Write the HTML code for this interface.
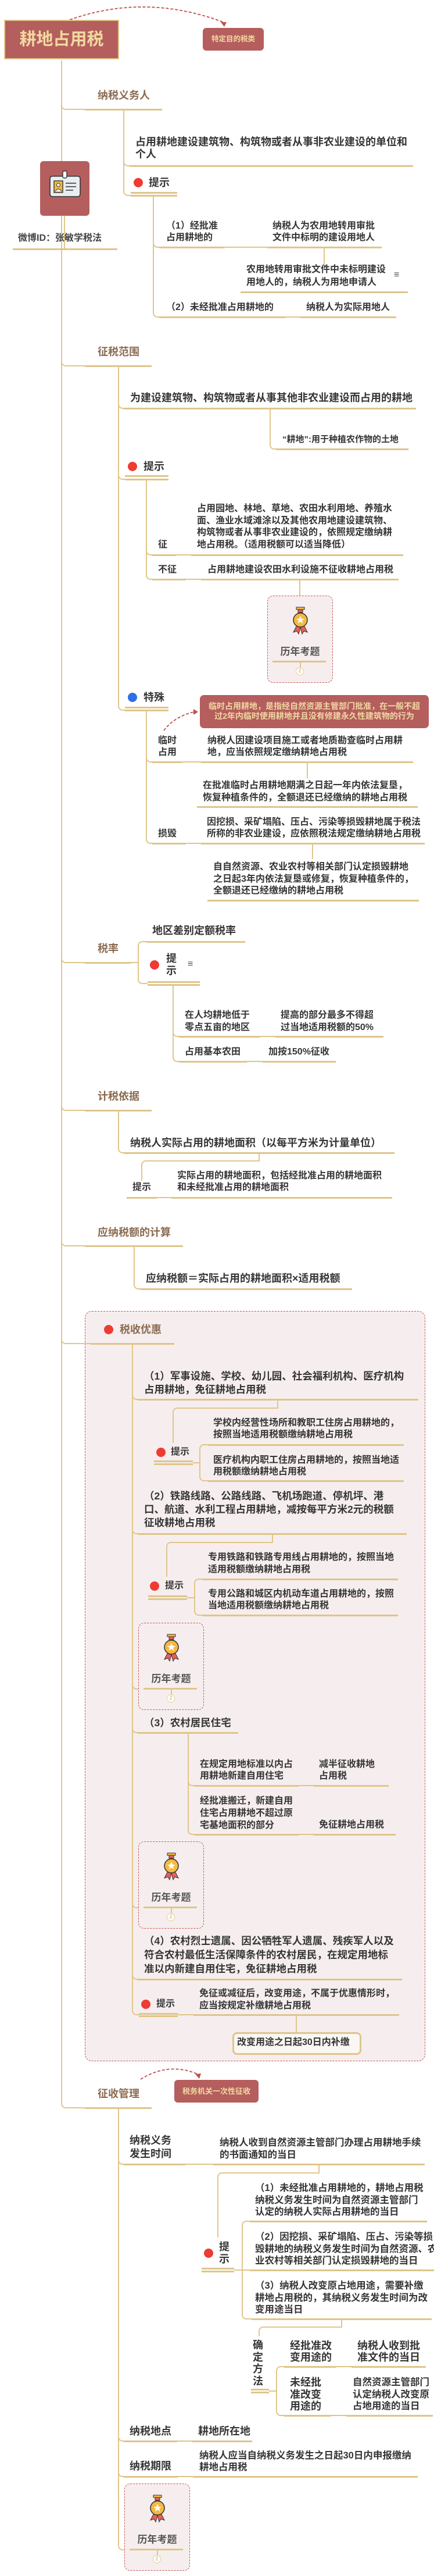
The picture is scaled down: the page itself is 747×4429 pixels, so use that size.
<!DOCTYPE html>
<html><head><meta charset="utf-8"><style>
body{margin:0;background:#fff}
#w{position:relative;width:747px;height:4429px;overflow:hidden;font-family:"Liberation Sans","Noto Sans CJK SC",sans-serif}
.t{position:absolute;white-space:nowrap;font-weight:bold;color:#353535;font-size:16px;line-height:20px}
.h{color:#8a6a50;font-size:18px;line-height:22px}
.b{font-size:18px;line-height:22px}
.u{position:absolute;height:3px;background:#dfc58b}
.u2{position:absolute;height:2.5px;background:#dfc58b}
.c{position:absolute;height:1.5px;background:#dfc58b}
.v{position:absolute;width:2px;background:#e0c68c}
.k{position:absolute;box-sizing:border-box;border-left:2px solid #e0c68c;border-bottom:2px solid #e0c68c;border-bottom-left-radius:8px;height:16px}
.tl{position:absolute;box-sizing:border-box;border-left:2px solid #e0c68c;border-top:2px solid #e0c68c;border-top-left-radius:8px}
.dot{position:absolute;width:16px;height:16px;border-radius:50%;background:#ee3b33}
.bx{position:absolute;width:113px;height:150px;box-sizing:border-box;border:1.5px dashed #c9565a;border-radius:10px;background:#f6eeee}
.bx .tt{position:absolute;left:0;width:100%;top:86px;text-align:center;font-weight:bold;color:#555;font-size:17px;line-height:20px}
.bx .ul{position:absolute;left:8px;width:92px;top:111px;height:3px;background:#dfc58b}
.bx .vl{position:absolute;left:55px;top:114px;width:1.5px;height:9px;background:#dfc58b}
.bx .ci{position:absolute;left:48px;top:122px;width:14px;height:14px;box-sizing:border-box;border:1.5px solid #e6cf8f;border-radius:50%;background:#fff;font-size:9px;line-height:11px;text-align:center;color:#c8a860}
.bx svg{position:absolute;left:38px;top:18px}
</style></head><body><div id="w">

<svg style="position:absolute;left:0;top:0" width="747" height="4429">
<path d="M120 34 Q250 -12 384 38" fill="none" stroke="#c0504d" stroke-width="1.8" stroke-dasharray="5,3"/>
<polygon points="380,38 390,38 386,46" fill="#c0504d"/>
<path d="M282 1256 Q300 1232 334 1224" fill="none" stroke="#c0504d" stroke-width="1.8" stroke-dasharray="5,3"/>
<polygon points="333,1219 341,1224 333,1229" fill="#c0504d"/>
<path d="M242 3575 Q290 3545 340 3566" fill="none" stroke="#c0504d" stroke-width="1.8" stroke-dasharray="5,3"/>
<polygon points="336,3566 346,3565 343,3574" fill="#c0504d"/>
</svg>

<!-- title -->
<div style="position:absolute;left:7px;top:34px;width:198px;height:68px;box-sizing:border-box;background:#b55e5e;border:2px solid #e0c58b;color:#f0d9a0;font-weight:bold;font-size:29px;line-height:64px;text-align:center">耕地占用税</div>
<div style="position:absolute;left:349px;top:48px;width:105px;height:39px;border-radius:6px;background:#b55e5e;color:#f0d9a0;font-weight:bold;font-size:12.5px;line-height:39px;text-align:center">特定目的税类</div>

<!-- trunk -->
<div class="v" style="left:105px;top:104px;height:3505px"></div>
<div class="k" style="left:105px;top:173px;width:41px"></div>
<div class="k" style="left:105px;top:614px;width:41px"></div>
<div class="k" style="left:105px;top:1640px;width:41px"></div>
<div class="k" style="left:105px;top:1894px;width:41px"></div>
<div class="k" style="left:105px;top:2127px;width:41px"></div>
<div class="k" style="left:105px;top:3609px;width:41px"></div>

<!-- avatar -->
<div style="position:absolute;left:69px;top:277px;width:85px;height:94px;border-radius:6px;background:#b55e5e"></div>
<svg style="position:absolute;left:84px;top:293px" width="56" height="48"><rect x="2" y="10" width="52" height="35" rx="4" fill="#e8eef0" stroke="#333" stroke-width="1.6"/><rect x="24" y="1" width="7" height="12" rx="2" fill="#fff" stroke="#333" stroke-width="1.4"/><rect x="9" y="18" width="15" height="20" fill="#f4b942" stroke="#333" stroke-width="1.4"/><circle cx="16.5" cy="25" r="3" fill="#fff" stroke="#333"/><path d="M11 36 Q16.5 28 22 36" fill="#fff" stroke="#333"/><path d="M29 22H47M29 28H47M29 34H42" stroke="#333" stroke-width="1.6"/></svg>
<div class="v" style="left:110px;top:371px;height:57px"></div>
<div class="t" style="left:31px;top:400px;color:#444">微博ID：张敏学税法</div>
<div class="u" style="left:22px;top:426.5px;width:180px"></div>

<!-- 纳税义务人 -->
<div class="t h" style="left:168px;top:153px">纳税义务人</div>
<div class="u" style="left:146px;top:186.5px;width:133px"></div>
<div class="v" style="left:212px;top:188px;height:133px"></div>
<div class="k" style="left:212px;top:270px;width:11px"></div>
<div class="k" style="left:212px;top:321px;width:13px"></div>
<div class="t b" style="left:233px;top:234px;line-height:21px">占用耕地建设建筑物、构筑物或者从事非农业建设的单位和<br>个人</div>
<div class="u" style="left:223px;top:283.5px;width:488px"></div>
<div class="dot" style="left:230px;top:306px"></div>
<div class="t b" style="left:256px;top:303px">提示</div>
<div class="u2" style="left:225px;top:330px;width:80px"></div>
<div class="u2" style="left:225px;top:335px;width:80px"></div>
<div class="v" style="left:263px;top:336px;height:194px"></div>
<div class="k" style="left:263px;top:410px;width:11px"></div>
<div class="k" style="left:263px;top:530px;width:11px"></div>
<div class="t" style="left:286px;top:379px">（1）经批准<br>占用耕地的</div>
<div class="u" style="left:274px;top:423.5px;width:113px"></div>
<div class="c" style="left:387px;top:424px;width:73px"></div>
<div class="u" style="left:460px;top:423.5px;width:197px"></div>
<div class="t" style="left:469px;top:379px">纳税人为农用地转用审批<br>文件中标明的建设用地人</div>
<div class="v" style="left:557px;top:425px;height:29px"></div>
<div class="t" style="left:424px;top:453px;line-height:22px">农用地转用审批文件中未标明建设<br>用地人的，纳税人为用地申请人</div>
<div class="t" style="left:678px;top:463px;font-weight:normal;color:#555">≡</div>
<div class="u" style="left:414px;top:500.5px;width:288px"></div>
<div class="t" style="left:286px;top:519px">（2）未经批准占用耕地的</div>
<div class="u" style="left:274px;top:543.5px;width:217px"></div>
<div class="c" style="left:491px;top:544px;width:26px"></div>
<div class="u" style="left:517px;top:543.5px;width:165px"></div>
<div class="t" style="left:527px;top:519px">纳税人为实际用地人</div>

<!-- 征税范围 -->
<div class="t h" style="left:168px;top:594px">征税范围</div>
<div class="u" style="left:146px;top:627.5px;width:115px"></div>
<div class="v" style="left:203px;top:629px;height:577px"></div>
<div class="k" style="left:203px;top:687px;width:10px"></div>
<div class="k" style="left:203px;top:809px;width:12px"></div>
<div class="k" style="left:203px;top:1206px;width:12px"></div>
<div class="t b" style="left:224px;top:673px">为建设建筑物、构筑物或者从事其他非农业建设而占用的耕地</div>
<div class="u" style="left:213px;top:700.5px;width:503px"></div>
<div class="v" style="left:464px;top:702px;height:55px"></div>
<div class="k" style="left:464px;top:757px;width:11px"></div>
<div class="t" style="left:486px;top:746px;font-size:15px">“耕地”:用于种植农作物的土地</div>
<div class="u" style="left:475px;top:770.5px;width:228px"></div>
<div class="dot" style="left:220px;top:794px"></div>
<div class="t b" style="left:247px;top:791px">提示</div>
<div class="u2" style="left:215px;top:817px;width:75px"></div>
<div class="u2" style="left:215px;top:823px;width:75px"></div>
<div class="v" style="left:251px;top:824px;height:157px"></div>
<div class="k" style="left:251px;top:939px;width:11px"></div>
<div class="k" style="left:251px;top:981px;width:11px"></div>
<div class="t" style="left:272px;top:927px">征</div>
<div class="t" style="left:339px;top:865px;line-height:20.7px">占用园地、林地、草地、农田水利用地、养殖水<br>面、渔业水域滩涂以及其他农用地建设建筑物、<br>构筑物或者从事非农业建设的，依照规定缴纳耕<br>地占用税。（适用税额可以适当降低）</div>
<div class="u" style="left:262px;top:952.5px;width:41px"></div>
<div class="c" style="left:303px;top:953px;width:26px"></div>
<div class="u" style="left:329px;top:952.5px;width:365px"></div>
<div class="t" style="left:272px;top:970px">不征</div>
<div class="t" style="left:357px;top:970px">占用耕地建设农田水利设施不征收耕地占用税</div>
<div class="u" style="left:262px;top:994.5px;width:58px"></div>
<div class="c" style="left:320px;top:995px;width:26px"></div>
<div class="u" style="left:346px;top:994.5px;width:340px"></div>
<div class="v" style="left:515px;top:996px;height:28px"></div>

<!-- 特殊 -->
<div class="dot" style="left:220px;top:1191px;background:#2f6fe6"></div>
<div class="t b" style="left:247px;top:1188px">特殊</div>
<div class="u2" style="left:215px;top:1215px;width:75px"></div>
<div class="u2" style="left:215px;top:1220px;width:75px"></div>
<div style="position:absolute;left:344px;top:1195px;width:394px;height:57px;border-radius:7px;background:#b55e5e;color:#f0d9a0;font-weight:bold;font-size:14px;line-height:17px;text-align:center;padding-top:11px;box-sizing:border-box">临时占用耕地，是指经自然资源主管部门批准，在一般不超<br>过2年内临时使用耕地并且没有修建永久性建筑物的行为</div>
<div class="v" style="left:251px;top:1221px;height:214px"></div>
<div class="k" style="left:251px;top:1295px;width:11px"></div>
<div class="k" style="left:251px;top:1435px;width:11px"></div>
<div class="t" style="left:272px;top:1264px">临时<br>占用</div>
<div class="t" style="left:357px;top:1264px">纳税人因建设项目施工或者地质勘查临时占用耕<br>地，应当依照规定缴纳耕地占用税</div>
<div class="u" style="left:262px;top:1308.5px;width:51px"></div>
<div class="c" style="left:313px;top:1309px;width:33px"></div>
<div class="u" style="left:346px;top:1308.5px;width:365px"></div>
<div class="v" style="left:528px;top:1310px;height:28px"></div>
<div class="t" style="left:349px;top:1340px;line-height:21px">在批准临时占用耕地期满之日起一年内依法复垦，<br>恢复种植条件的，全额退还已经缴纳的耕地占用税</div>
<div class="u" style="left:339px;top:1385.5px;width:380px"></div>
<div class="t" style="left:272px;top:1424px">损毁</div>
<div class="t" style="left:356px;top:1404px">因挖损、采矿塌陷、压占、污染等损毁耕地属于税法<br>所称的非农业建设，应依照税法规定缴纳耕地占用税</div>
<div class="u" style="left:262px;top:1448.5px;width:58px"></div>
<div class="c" style="left:320px;top:1449px;width:26px"></div>
<div class="u" style="left:346px;top:1448.5px;width:385px"></div>
<div class="v" style="left:537px;top:1450px;height:27px"></div>
<div class="t" style="left:367px;top:1481px;line-height:20.5px">自自然资源、农业农村等相关部门认定损毁耕地<br>之日起3年内依法复垦或修复，恢复种植条件的，<br>全额退还已经缴纳的耕地占用税</div>
<div class="u" style="left:357px;top:1546.5px;width:364px"></div>

<!-- 税率 -->
<div class="t h" style="left:168px;top:1620px">税率</div>
<div class="u" style="left:146px;top:1653.5px;width:79px"></div>
<div class="c" style="left:225px;top:1654px;width:13px"></div>
<div class="tl" style="left:237px;top:1618px;width:15px;height:16px"></div>
<div class="v" style="left:237px;top:1630px;height:50px"></div>
<div class="k" style="left:237px;top:1676px;width:17px"></div>
<div class="t b" style="left:262px;top:1589px">地区差别定额税率</div>
<div class="u" style="left:252px;top:1617.5px;width:170px"></div>
<div class="dot" style="left:258px;top:1651px"></div>
<div class="t b" style="left:286px;top:1638px;line-height:21px">提<br>示</div>
<div class="t" style="left:323px;top:1648px;font-weight:normal;color:#555">≡</div>
<div class="u2" style="left:254px;top:1687px;width:90px"></div>
<div class="u2" style="left:254px;top:1692px;width:90px"></div>
<div class="v" style="left:297px;top:1693px;height:117px"></div>
<div class="k" style="left:297px;top:1767px;width:11px"></div>
<div class="k" style="left:297px;top:1810px;width:11px"></div>
<div class="t" style="left:318px;top:1735px;line-height:21px">在人均耕地低于<br>零点五亩的地区</div>
<div class="t" style="left:483px;top:1735px;line-height:21px">提高的部分最多不得超<br>过当地适用税额的50%</div>
<div class="u" style="left:308px;top:1780.5px;width:139px"></div>
<div class="c" style="left:447px;top:1781px;width:27px"></div>
<div class="u" style="left:474px;top:1780.5px;width:186px"></div>
<div class="t" style="left:318px;top:1799px">占用基本农田</div>
<div class="t" style="left:462px;top:1799px">加按150%征收</div>
<div class="u" style="left:308px;top:1823.5px;width:117px"></div>
<div class="c" style="left:425px;top:1824px;width:27px"></div>
<div class="u" style="left:452px;top:1823.5px;width:126px"></div>

<!-- 计税依据 -->
<div class="t h" style="left:168px;top:1874px">计税依据</div>
<div class="u" style="left:146px;top:1907.5px;width:115px"></div>
<div class="v" style="left:203px;top:1909px;height:58px"></div>
<div class="k" style="left:203px;top:1967px;width:10px"></div>
<div class="t b" style="left:224px;top:1954px">纳税人实际占用的耕地面积（以每平方米为计量单位）</div>
<div class="u" style="left:213px;top:1980.5px;width:466px"></div>
<div class="v" style="left:445px;top:1982px;height:15px"></div>
<div class="tl" style="left:243px;top:1995px;width:204px;height:35px"></div>
<div class="t" style="left:228px;top:2032px">提示</div>
<div class="t" style="left:305px;top:2012px">实际占用的耕地面积，包括经批准占用的耕地面积<br>和未经批准占用的耕地面积</div>
<div class="u" style="left:218px;top:2057.5px;width:52px"></div>
<div class="c" style="left:270px;top:2058px;width:25px"></div>
<div class="u" style="left:295px;top:2057.5px;width:380px"></div>

<!-- 应纳税额的计算 -->
<div class="t h" style="left:168px;top:2108px">应纳税额的计算</div>
<div class="u" style="left:146px;top:2140.5px;width:169px"></div>
<div class="v" style="left:230px;top:2142px;height:59px"></div>
<div class="k" style="left:230px;top:2201px;width:11px"></div>
<div class="t b" style="left:251px;top:2187px">应纳税额＝实际占用的耕地面积×适用税额</div>
<div class="u" style="left:241px;top:2214.5px;width:365px"></div>

<!-- 税收优惠 -->
<div style="position:absolute;left:146px;top:2254px;width:586px;height:1290px;box-sizing:border-box;border:1.5px dashed #c9565a;border-radius:12px;background:#f6eeee"></div>
<div class="k" style="left:105px;top:2295px;width:51px"></div>
<div class="dot" style="left:179px;top:2278px"></div>
<div class="t h" style="left:206px;top:2275px">税收优惠</div>
<div class="u" style="left:156px;top:2308.5px;width:144px"></div>
<div class="v" style="left:227px;top:2310px;height:1139px"></div>
<div class="k" style="left:227px;top:2391px;width:10px"></div>
<div class="k" style="left:227px;top:2622px;width:10px"></div>
<div class="k" style="left:227px;top:2889px;width:20px"></div>
<div class="k" style="left:227px;top:2964px;width:10px"></div>
<div class="k" style="left:227px;top:3265px;width:20px"></div>
<div class="k" style="left:227px;top:3388px;width:10px"></div>
<div class="k" style="left:227px;top:3449px;width:12px"></div>

<div class="t b" style="left:248px;top:2355px;font-size:17.5px;line-height:23px">（1）军事设施、学校、幼儿园、社会福利机构、医疗机构<br>占用耕地，免征耕地占用税</div>
<div class="u" style="left:237px;top:2404.5px;width:483px"></div>
<div class="v" style="left:477px;top:2406px;height:16px"></div>
<div class="tl" style="left:297px;top:2420px;width:182px;height:61px"></div>
<div class="dot" style="left:269px;top:2489px"></div>
<div class="t" style="left:294px;top:2487px">提示</div>
<div class="u2" style="left:265px;top:2511px;width:67px"></div>
<div class="u2" style="left:265px;top:2516px;width:67px"></div>
<div class="c" style="left:332px;top:2514px;width:12px"></div>
<div class="tl" style="left:343px;top:2483px;width:15px;height:14px"></div>
<div class="v" style="left:343px;top:2494px;height:42px"></div>
<div class="k" style="left:343px;top:2531px;width:15px"></div>
<div class="t" style="left:367px;top:2437px">学校内经营性场所和教职工住房占用耕地的，<br>按照当地适用税额缴纳耕地占用税</div>
<div class="u" style="left:358px;top:2482.5px;width:337px"></div>
<div class="t" style="left:367px;top:2501px;line-height:19.5px">医疗机构内职工住房占用耕地的，按照当地适<br>用税额缴纳耕地占用税</div>
<div class="u" style="left:358px;top:2544.5px;width:337px"></div>

<div class="t b" style="left:248px;top:2561px;font-size:17.5px;line-height:23px">（2）铁路线路、公路线路、飞机场跑道、停机坪、港<br>口、航道、水利工程占用耕地，减按每平方米2元的税额<br>征收耕地占用税</div>
<div class="u" style="left:237px;top:2635.5px;width:463px"></div>
<div class="v" style="left:468px;top:2637px;height:16px"></div>
<div class="tl" style="left:286px;top:2651px;width:184px;height:60px"></div>
<div class="dot" style="left:258px;top:2719px"></div>
<div class="t" style="left:284px;top:2717px">提示</div>
<div class="u2" style="left:255px;top:2743px;width:67px"></div>
<div class="u2" style="left:255px;top:2748px;width:67px"></div>
<div class="c" style="left:322px;top:2746px;width:13px"></div>
<div class="tl" style="left:334px;top:2714px;width:14px;height:14px"></div>
<div class="v" style="left:334px;top:2725px;height:42px"></div>
<div class="k" style="left:334px;top:2762px;width:14px"></div>
<div class="t" style="left:358px;top:2667px;line-height:21px">专用铁路和铁路专用线占用耕地的，按照当地<br>适用税额缴纳耕地占用税</div>
<div class="u" style="left:348px;top:2713.5px;width:337px"></div>
<div class="t" style="left:358px;top:2731px">专用公路和城区内机动车道占用耕地的，按照<br>当地适用税额缴纳耕地占用税</div>
<div class="u" style="left:348px;top:2775.5px;width:337px"></div>

<div class="t b" style="left:248px;top:2951px;font-size:17.5px">（3）农村居民住宅</div>
<div class="u" style="left:237px;top:2977.5px;width:173px"></div>
<div class="v" style="left:323px;top:2979px;height:160px"></div>
<div class="k" style="left:323px;top:3055px;width:11px"></div>
<div class="k" style="left:323px;top:3139px;width:11px"></div>
<div class="t" style="left:344px;top:3024px">在规定用地标准以内占<br>用耕地新建自用住宅</div>
<div class="t" style="left:549px;top:3024px">减半征收耕地<br>占用税</div>
<div class="u" style="left:334px;top:3068.5px;width:180px"></div>
<div class="c" style="left:514px;top:3069px;width:26px"></div>
<div class="u" style="left:540px;top:3068.5px;width:129px"></div>
<div class="t" style="left:344px;top:3086px;line-height:21px">经批准搬迁，新建自用<br>住宅占用耕地不超过原<br>宅基地面积的部分</div>
<div class="t" style="left:549px;top:3128px">免征耕地占用税</div>
<div class="u" style="left:334px;top:3152.5px;width:180px"></div>
<div class="c" style="left:514px;top:3153px;width:26px"></div>
<div class="u" style="left:540px;top:3152.5px;width:141px"></div>

<div class="t b" style="left:248px;top:3325px;font-size:17.5px;line-height:24px">（4）农村烈士遗属、因公牺牲军人遗属、残疾军人以及<br>符合农村最低生活保障条件的农村居民，在规定用地标<br>准以内新建自用住宅，免征耕地占用税</div>
<div class="u" style="left:237px;top:3401.5px;width:455px"></div>
<div class="dot" style="left:243px;top:3438px"></div>
<div class="t" style="left:269px;top:3436px">提示</div>
<div class="u2" style="left:239px;top:3461px;width:67px"></div>
<div class="u2" style="left:239px;top:3465px;width:67px"></div>
<div class="c" style="left:306px;top:3463px;width:27px"></div>
<div class="u" style="left:333px;top:3462.5px;width:354px"></div>
<div class="t" style="left:343px;top:3417px;line-height:21px">免征或减征后，改变用途，不属于优惠情形时，<br>应当按规定补缴耕地占用税</div>
<div class="v" style="left:509px;top:3464px;height:30px"></div>
<div style="position:absolute;left:400px;top:3494px;width:222px;height:39px;box-sizing:border-box;border:3px solid #dfc58b;border-radius:8px;background:#faf6f2"></div>
<div class="t" style="left:408px;top:3502px">改变用途之日起30日内补缴</div>

<!-- 征收管理 -->
<div class="t h" style="left:168px;top:3589px">征收管理</div>
<div style="position:absolute;left:300px;top:3576px;width:145px;height:39px;border-radius:6px;background:#b55e5e;color:#f0d9a0;font-weight:bold;font-size:13px;line-height:39px;text-align:center">税务机关一次性征收</div>
<div class="u" style="left:146px;top:3622.5px;width:115px"></div>
<div class="v" style="left:203px;top:3624px;height:745px"></div>
<div class="k" style="left:203px;top:3706px;width:10px"></div>
<div class="k" style="left:203px;top:4182px;width:10px"></div>
<div class="k" style="left:203px;top:4243px;width:10px"></div>
<div class="k" style="left:203px;top:4369px;width:20px"></div>
<div class="t b" style="left:223px;top:3669px;line-height:23px">纳税义务<br>发生时间</div>
<div class="t" style="left:378px;top:3674px;font-size:16.5px;line-height:21px">纳税人收到自然资源主管部门办理占用耕地手续<br>的书面通知的当日</div>
<div class="u" style="left:213px;top:3719.5px;width:106px"></div>
<div class="c" style="left:319px;top:3720px;width:48px"></div>
<div class="u" style="left:367px;top:3719.5px;width:364px"></div>
<div class="v" style="left:548px;top:3721px;height:16px"></div>
<div class="tl" style="left:374px;top:3735px;width:176px;height:112px"></div>
<div class="dot" style="left:351px;top:3866px"></div>
<div class="t b" style="left:377px;top:3853px;line-height:21px">提<br>示</div>
<div class="u2" style="left:347px;top:3899px;width:56px"></div>
<div class="u2" style="left:347px;top:3904px;width:56px"></div>
<div class="c" style="left:403px;top:3902px;width:27px"></div>
<div class="tl" style="left:416px;top:3818px;width:14px;height:14px"></div>
<div class="v" style="left:416px;top:3829px;height:143px"></div>
<div class="k" style="left:416px;top:3972px;width:17px"></div>
<div class="t" style="left:439px;top:3752px;font-size:16.5px;line-height:20.5px">（1）未经批准占用耕地的，耕地占用税<br>纳税义务发生时间为自然资源主管部门<br>认定的纳税人实际占用耕地的当日</div>
<div class="u" style="left:430px;top:3817.5px;width:305px"></div>
<div class="t" style="left:439px;top:3836px;font-size:16.5px;line-height:20.5px">（2）因挖损、采矿塌陷、压占、污染等损<br>毁耕地的纳税义务发生时间为自然资源、农<br>业农村等相关部门认定损毁耕地的当日</div>
<div class="u" style="left:430px;top:3901.5px;width:317px"></div>
<div class="t" style="left:439px;top:3920px;font-size:16.5px;line-height:20.5px">（3）纳税人改变原占地用途，需要补缴<br>耕地占用税的，其纳税义务发生时间为改<br>变用途当日</div>
<div class="u" style="left:433px;top:3985.5px;width:310px"></div>
<div class="v" style="left:587px;top:3987px;height:15px"></div>
<div class="tl" style="left:445px;top:4000px;width:144px;height:17px"></div>
<div class="t b" style="left:435px;top:4022px;line-height:20.5px">确<br>定<br>方<br>法</div>
<div class="u2" style="left:432px;top:4107px;width:31px"></div>
<div class="u2" style="left:432px;top:4112px;width:31px"></div>
<div class="c" style="left:463px;top:4110px;width:13px"></div>
<div class="tl" style="left:475px;top:4068px;width:14px;height:14px"></div>
<div class="v" style="left:475px;top:4079px;height:60px"></div>
<div class="k" style="left:475px;top:4138px;width:14px"></div>
<div class="t b" style="left:499px;top:4023px;line-height:20px">经批准改<br>变用途的</div>
<div class="t b" style="left:615px;top:4023px;line-height:20px">纳税人收到批<br>准文件的当日</div>
<div class="u" style="left:489px;top:4067.5px;width:90px"></div>
<div class="c" style="left:579px;top:4068px;width:26px"></div>
<div class="u" style="left:605px;top:4067.5px;width:128px"></div>
<div class="t b" style="left:499px;top:4086px;line-height:20.5px">未经批<br>准改变<br>用途的</div>
<div class="t" style="left:607px;top:4086px;font-size:16.5px;line-height:20.5px">自然资源主管部门<br>认定纳税人改变原<br>占地用途的当日</div>
<div class="u" style="left:489px;top:4151.5px;width:81px"></div>
<div class="c" style="left:570px;top:4152px;width:26px"></div>
<div class="u" style="left:596px;top:4151.5px;width:149px"></div>

<div class="t b" style="left:223px;top:4169px">纳税地点</div>
<div class="t b" style="left:341px;top:4169px">耕地所在地</div>
<div class="u" style="left:213px;top:4195.5px;width:92px"></div>
<div class="c" style="left:305px;top:4196px;width:26px"></div>
<div class="u" style="left:331px;top:4195.5px;width:103px"></div>
<div class="t b" style="left:223px;top:4229px">纳税期限</div>
<div class="t" style="left:343px;top:4212px;font-size:16.5px">纳税人应当自纳税义务发生之日起30日内申报缴纳<br>耕地占用税</div>
<div class="u" style="left:213px;top:4256.5px;width:93px"></div>
<div class="c" style="left:306px;top:4257px;width:26px"></div>
<div class="u" style="left:332px;top:4256.5px;width:387px"></div>

<!-- medal boxes -->
<div class="bx" style="left:460px;top:1024px"><svg width="36" height="48" viewBox="0 0 36 48"><rect x="11" y="1" width="14" height="4" fill="#f4b942" stroke="#333"/><rect x="14" y="5" width="8" height="5" fill="#e8605a" stroke="#333"/><path d="M12 32 L6 44 L12 42 L15 47 L18 36 L21 47 L24 42 L30 44 L24 32Z" fill="#e8605a" stroke="#333"/><circle cx="18" cy="23" r="12" fill="#f4b942" stroke="#333" stroke-width="1.5"/><polygon points="18,16 20,21 25,21 21,24 22.5,29 18,26 13.5,29 15,24 11,21 16,21" fill="#fff"/></svg><div class="tt">历年考题</div><div class="ul"></div><div class="vl"></div><div class="ci">2</div></div>
<div class="bx" style="left:238px;top:2790px"><svg width="36" height="48" viewBox="0 0 36 48"><rect x="11" y="1" width="14" height="4" fill="#f4b942" stroke="#333"/><rect x="14" y="5" width="8" height="5" fill="#e8605a" stroke="#333"/><path d="M12 32 L6 44 L12 42 L15 47 L18 36 L21 47 L24 42 L30 44 L24 32Z" fill="#e8605a" stroke="#333"/><circle cx="18" cy="23" r="12" fill="#f4b942" stroke="#333" stroke-width="1.5"/><polygon points="18,16 20,21 25,21 21,24 22.5,29 18,26 13.5,29 15,24 11,21 16,21" fill="#fff"/></svg><div class="tt">历年考题</div><div class="ul"></div><div class="vl"></div><div class="ci">2</div></div>
<div class="bx" style="left:238px;top:3166px"><svg width="36" height="48" viewBox="0 0 36 48"><rect x="11" y="1" width="14" height="4" fill="#f4b942" stroke="#333"/><rect x="14" y="5" width="8" height="5" fill="#e8605a" stroke="#333"/><path d="M12 32 L6 44 L12 42 L15 47 L18 36 L21 47 L24 42 L30 44 L24 32Z" fill="#e8605a" stroke="#333"/><circle cx="18" cy="23" r="12" fill="#f4b942" stroke="#333" stroke-width="1.5"/><polygon points="18,16 20,21 25,21 21,24 22.5,29 18,26 13.5,29 15,24 11,21 16,21" fill="#fff"/></svg><div class="tt">历年考题</div><div class="ul"></div><div class="vl"></div><div class="ci">2</div></div>
<div class="bx" style="left:214px;top:4270px"><svg width="36" height="48" viewBox="0 0 36 48"><rect x="11" y="1" width="14" height="4" fill="#f4b942" stroke="#333"/><rect x="14" y="5" width="8" height="5" fill="#e8605a" stroke="#333"/><path d="M12 32 L6 44 L12 42 L15 47 L18 36 L21 47 L24 42 L30 44 L24 32Z" fill="#e8605a" stroke="#333"/><circle cx="18" cy="23" r="12" fill="#f4b942" stroke="#333" stroke-width="1.5"/><polygon points="18,16 20,21 25,21 21,24 22.5,29 18,26 13.5,29 15,24 11,21 16,21" fill="#fff"/></svg><div class="tt">历年考题</div><div class="ul"></div><div class="vl"></div><div class="ci">2</div></div>

</div></body></html>
